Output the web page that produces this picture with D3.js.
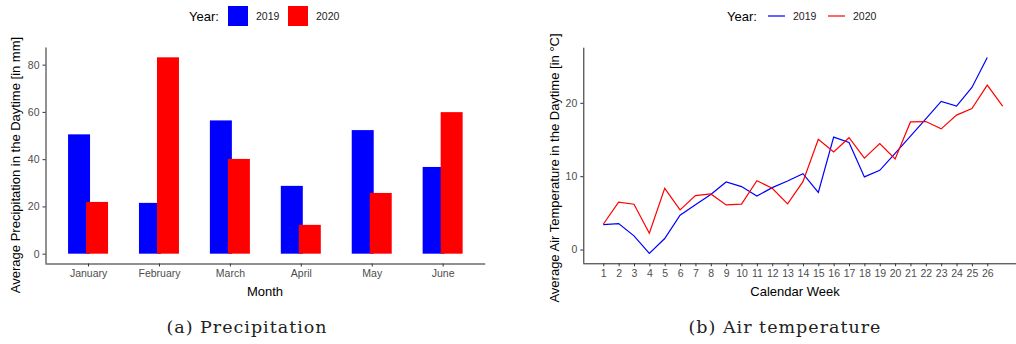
<!DOCTYPE html>
<html>
<head>
<meta charset="utf-8">
<script src="https://cdn.jsdelivr.net/npm/d3@7"></script>
<style>
  body { margin: 0; background: #fff; }
  svg { display: block; font-family: "Liberation Sans", Arial, sans-serif; }
  .tick text { fill: #4d4d4d; font-size: 10.5px; }
  .tick line { stroke: #333; }
  .domain { stroke: #222; }
  .caption { font-family: "DejaVu Serif", "Liberation Serif", serif; font-size: 17.5px; letter-spacing: 1px; fill: #222; }
</style>
</head>
<body>
<svg id="chart" width="1016" height="344"></svg>
<script>
// precipitation by month
const months = ["January", "February", "March", "April", "May", "June"];
const precip2019 = [50.5, 21.5, 56.4, 28.7, 52.3, 36.7];
const precip2020 = [21.9, 83.1, 40.1, 12.2, 25.7, 59.9];

// air temperature by calendar week
const weeks2019 = d3.range(1, 27);
const temp2019 = [3.4, 3.54, 1.86, -0.54, 1.5, 4.68, 6.12, 7.5, 9.21, 8.58,
  7.3, 8.44, 9.35, 10.34, 7.78, 15.33, 14.6, 9.9, 10.8, 13.1,
  15.45, 17.8, 20.2, 19.55, 22.09, 26.18];
const weeks2020 = d3.range(1, 28);
const temp2020 = [3.45, 6.45, 6.17, 2.23, 8.35, 5.4, 7.35, 7.58, 6.08, 6.2,
  9.39, 8.35, 6.22, 9.25, 15.02, 13.29, 15.24, 12.47, 14.45, 12.36,
  17.4, 17.45, 16.45, 18.33, 19.23, 22.41, 19.55];
const weekTicks = d3.range(1, 27);

const years = ["2019", "2020"];
const colors = { "2019": "#0000ff", "2020": "#ff0000" };

const svg = d3.select("#chart");

function expand(lo, hi, f) {
  const d = (hi - lo) * f;
  return [lo - d, hi + d];
}

// ---------- (a) bars ----------
{
  const left = 45.5, right = 485.2, top = 47.5, bottom = 263.5;
  const x = d3.scalePoint().domain(months).range([left, right]).padding(0.6);
  const yDom = expand(Math.min(0, d3.min(precip2019), d3.min(precip2020)),
    Math.max(d3.max(precip2019), d3.max(precip2020)), 0.05);
  const y = d3.scaleLinear().domain(yDom).range([bottom, top]);
  const step = x.step();
  const bw = 0.31 * step, off = 0.127 * step;

  const g = svg.append("g");
  [[precip2019, -off, "2019"], [precip2020, off, "2020"]].forEach(([vals, o, yr]) => {
    g.selectAll(null).data(vals).enter().append("rect")
      .attr("x", (d, i) => x(months[i]) + o - bw / 2)
      .attr("width", bw)
      .attr("y", d => y(Math.max(0, d)))
      .attr("height", d => Math.abs(y(d) - y(0)))
      .attr("fill", colors[yr]);
  });

  svg.append("g").attr("transform", `translate(0,${bottom})`)
    .call(d3.axisBottom(x).tickSize(3).tickPadding(3))
    .call(a => a.select(".domain").attr("d", `M${left},0.5H${right}`));
  svg.append("g").attr("transform", `translate(${left},0)`)
    .call(d3.axisLeft(y).tickValues([0, 20, 40, 60, 80]).tickSize(3).tickPadding(3))
    .call(a => a.select(".domain").attr("d", `M0.5,${top}V${bottom}`));

  svg.append("text").attr("x", 265).attr("y", 296).attr("text-anchor", "middle")
    .attr("font-size", 13).text("Month");
  svg.append("text").attr("transform", "translate(20,165) rotate(-90)")
    .attr("text-anchor", "middle").attr("font-size", 13)
    .text("Average Precipitation in the Daytime [in mm]");

  // legend
  const lg = svg.append("g");
  lg.append("text").attr("x", 189).attr("y", 21).attr("font-size", 13).text("Year:");
  years.forEach((yr, i) => {
    const lx = 228 + i * 60;
    lg.append("rect").attr("x", lx).attr("y", 6).attr("width", 20).attr("height", 20)
      .attr("fill", colors[yr]);
    lg.append("text").attr("x", lx + 28).attr("y", 20).attr("font-size", 10.5)
      .attr("fill", "#222").text(yr);
  });

  svg.append("text").attr("class", "caption").attr("x", 247).attr("y", 333)
    .attr("text-anchor", "middle").text("(a) Precipitation");
}

// ---------- (b) lines ----------
{
  const left = 583.3, top = 47.7, bottom = 263.3, unit = 15.36;
  const xDom = expand(1, 27, 0.05);
  const x = d3.scaleLinear().domain(xDom)
    .range([left, left + (xDom[1] - xDom[0]) * unit]);
  const yDom = expand(Math.min(d3.min(temp2019), d3.min(temp2020)),
    Math.max(d3.max(temp2019), d3.max(temp2020)), 0.05);
  const y = d3.scaleLinear().domain(yDom).range([bottom, top]);

  const line = d3.line().x(d => x(d[0])).y(d => y(d[1]));
  [[weeks2019, temp2019, "2019"], [weeks2020, temp2020, "2020"]].forEach(([w, t, yr]) => {
    svg.append("path").datum(w.map((d, i) => [d, t[i]]))
      .attr("d", line).attr("fill", "none")
      .attr("stroke", colors[yr]).attr("stroke-width", 1.2);
  });

  svg.append("g").attr("transform", `translate(0,${bottom})`)
    .call(d3.axisBottom(x).tickValues(weekTicks).tickFormat(d3.format("d")).tickSize(3).tickPadding(3))
    .call(a => a.select(".domain").attr("d", `M${left},0.5H1016`));
  svg.append("g").attr("transform", `translate(${left},0)`)
    .call(d3.axisLeft(y).tickValues([0, 10, 20]).tickSize(3).tickPadding(3))
    .call(a => a.select(".domain").attr("d", `M0.5,${top}V${bottom}`));

  svg.append("text").attr("x", 795).attr("y", 296).attr("text-anchor", "middle")
    .attr("font-size", 13).text("Calendar Week");
  svg.append("text").attr("transform", "translate(559,168) rotate(-90)")
    .attr("text-anchor", "middle").attr("font-size", 13)
    .text("Average Air Temperature in the Daytime [in °C]");

  const lg = svg.append("g");
  lg.append("text").attr("x", 727).attr("y", 21).attr("font-size", 13).text("Year:");
  years.forEach((yr, i) => {
    const lx = 768 + i * 60;
    lg.append("line").attr("x1", lx).attr("x2", lx + 17).attr("y1", 16).attr("y2", 16)
      .attr("stroke", colors[yr]).attr("stroke-width", 1.2);
    lg.append("text").attr("x", lx + 25).attr("y", 20).attr("font-size", 10.5)
      .attr("fill", "#222").text(yr);
  });

  svg.append("text").attr("class", "caption").attr("x", 785).attr("y", 333)
    .attr("text-anchor", "middle").text("(b) Air temperature");
}
</script>
</body>
</html>
